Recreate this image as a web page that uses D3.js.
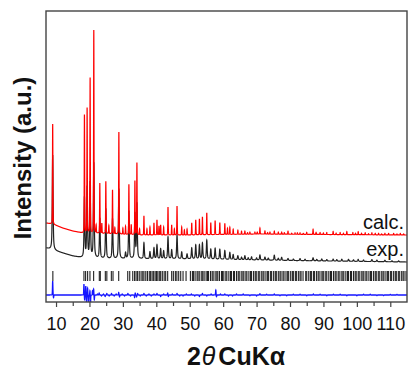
<!DOCTYPE html>
<html>
<head>
<meta charset="utf-8">
<script src="https://cdn.jsdelivr.net/npm/d3@7"></script>
<style>
  body { margin: 0; background: #fff; }
  text { font-family: "Liberation Sans", Arial, sans-serif; }
</style>
</head>
<body>
<svg width="410" height="370"></svg>
<script>
// 2theta window and ticks
var xDomain = [7, 115];
var majorTicks = [10, 20, 30, 40, 50, 60, 70, 80, 90, 100, 110];
var minorTicks = [15, 25, 35, 45, 55, 65, 75, 85, 95, 105];

// background of each pattern: [2theta, intensity]
var calcBase = [[7, 79], [9, 78], [12, 74], [15, 71], [18, 69], [25, 68.5], [35, 67], [50, 67], [70, 68], [90, 67.5], [115, 67]];
var expBase = [[7, 54], [9, 52], [10, 51], [12, 49], [15, 46], [18, 44], [25, 43], [35, 43], [50, 43], [70, 42], [90, 41], [115, 40]];
var diffBase = [[7, 7], [115, 7]];

// peaks: [2theta, height]
var calcPeaks = [[9.0,100],[18.5,118],[19.3,125],[20.2,155],[21.3,203],[22.0,8],[23.1,50],[23.7,10],[24.9,52],[25.8,8],
  [26.9,44],[27.6,6],[28.8,102],[30.0,6],[30.8,8],[31.8,50],[32.5,10],[33.6,54],[34.2,72],[35.0,6],[36.3,19],[37.2,6],
  [38.1,8],[39.3,12],[40.2,15],[40.8,9],[41.3,10],[42.2,8],[43.5,28],[44.6,10],[45.4,6],[46.2,29],[47.6,8],[48.4,5],
  [49.2,6],[50.6,12],[51.8,15],[52.9,16],[53.8,18],[55.1,22],[56.3,12],[57.6,14],[59.0,12],[60.5,11],[61.3,6],[62.0,7],
  [63.0,5],[64.4,4],[65.5,3],[66.5,3],[67.3,1.5],[68.0,2],[69.5,2],[70.2,2],[71.0,6],[72.5,3],[73.3,1.5],[74.0,2],
  [75.3,3],[76.5,2],[77.5,2],[78.3,1.5],[79.4,3],[80.5,1],[81.5,1.5],[82.2,1.5],[83.0,1.5],[84.0,1],[85.0,2],[86.9,5],
  [87.8,2],[89.0,2],[90.0,1.5],[91.0,2],[92.9,3],[93.8,1.5],[95.0,2],[96.0,1.5],[97.0,3],[98.8,2],[99.6,1.5],
  [100.4,3],[101.4,1.5],[102.5,2],[103.5,1],[104.5,2],[105.5,1.5],[106.5,1.5],[107.4,1],[108.4,1.5],[109.5,1.5],
  [111.0,1.5],[112.0,1],[113.0,1.5],[114.0,1]];
var expPeaks = [[9.0,95],[18.5,60],[19.3,70],[20.2,75],[21.3,95],[23.1,40],[24.9,50],[26.9,40],[28.8,70],[30.8,6],
  [31.8,48],[33.6,45],[34.2,55],[36.3,16],[38.1,7],[39.3,11],[40.2,14],[41.3,10],[42.2,8],[43.5,22],[44.6,9],[46.2,24],
  [47.6,7],[49.2,5],[50.6,11],[51.8,14],[52.9,14],[53.8,16],[55.1,19],[56.3,10],[57.6,11],[59.0,10],[60.5,9],[62.0,7],
  [63.0,5],[64.4,4],[65.5,2.5],[66.5,4],[67.5,2],[68.5,3],[70.0,2],[71.0,5],[72.5,3],[73.5,2],[75.3,5],[76.5,2],
  [77.5,3],[79.4,2],[81.0,1.5],[83.0,2],[84.5,1.5],[86.9,3],[88.0,1.5],[89.5,2],[91.0,1.5],[92.9,2],[94.0,1.5],
  [95.5,2],[97.5,2],[99.0,1.5],[100.4,2],[102.0,1.5],[104.5,2],[106.0,1.5],[108.4,1.5],[110.5,1],[112.5,1]];
// difference curve features: [2theta, deviation]
var diffPeaks = [[9.0,14],[9.25,-3],[18.35,11],[18.55,-5],[18.9,9],[19.1,-7],[19.45,7],[19.7,-9],[20.15,5],[20.3,-10],
  [20.9,4],[21.25,6],[21.45,-5],[22.4,1],[22.9,2],[23.6,-1],[24.2,1],[24.7,-1.5],[25.2,1.5],[25.9,-1],[26.6,1.5],
  [27.4,-1],[28.0,1],[28.75,2.5],[29.0,-2],[29.8,1],[30.5,-1],[31.5,1.5],[32.3,-1],[33.5,-2.5],[33.7,2],[34.1,-2],
  [34.4,1.5],[35.2,-1],[36.3,1.5],[37.0,-1],[37.8,1],[38.5,-1],[39.3,1],[40.2,1.5],[41.3,-1.5],[42.2,1],[43.4,2],
  [43.6,-1.5],[44.8,1],[46.2,1.5],[47.0,-1],[48.0,-1],[49.0,1],[50.5,1],[51.5,-1],[52.9,-1.5],[53.8,1.5],[55.1,-1],
  [56.4,1],[57.8,5],[58.0,-2],[59.2,1],[60.5,1],[61.6,-1],[62.8,-1],[64.0,1],[66.0,1],[68.0,-0.8],[70.0,-1],[71.0,1.2],
  [73.0,0.8],[75.3,1],[77.0,-0.8],[79.0,-0.8],[81.0,0.8],[83.0,0.8],[85.0,-0.8],[87.0,1],[89.0,0.8],[91.0,-0.8],
  [93.0,0.8],[95.0,0.8],[97.0,-0.8],[100.0,-0.8],[102.0,0.8],[104.0,0.8],[106.0,-0.6],[108.0,-0.6],[110.0,0.6],[112.0,0.6]];

// Bragg reflection markers
var reflections = [9.05,
  18.35,18.85,19.45,20.15,21.25,22.95,23.25,24.75,25.2,26.55,27.05,28.75,
  31.45,32.05,32.95,33.5,33.95,34.4,34.9,35.45,35.95,36.3,36.85,37.35,37.9,38.3,38.75,39.2,39.65,40.05,40.45,40.9,
  41.3,41.8,42.35,42.8,43.4,44.6,45.1,45.7,46.15,46.7,47.3,48.0,48.9,
  50.2,50.8,51.1,51.6,52.2,52.5,53.0,53.6,53.9,54.3,54.9,55.3,55.6,56.2,56.7,57.0,57.6,58.1,58.4,58.9,59.5,59.8,
  60.2,60.8,61.1,61.7,62.2,62.5,63.1,63.4,64.0,64.5,64.8,65.4,65.9,66.2,66.8,67.1,67.7,68.2,68.5,69.1,69.6,69.9,
  70.5,70.8,71.4,71.9,72.2,72.8,73.3,73.6,74.2,74.5,75.1,75.6,75.9,76.5,77.0,77.3,77.9,78.2,78.8,79.3,79.6,80.2,
  80.7,81.0,81.6,81.9,82.5,83.0,83.3,83.9,84.7,85.0,85.6,86.1,86.4,87.0,87.3,87.9,88.4,88.7,89.3,89.8,90.1,90.7,
  91.0,91.6,92.1,92.4,93.0,93.5,93.8,94.4,94.7,95.3,95.8,96.1,96.7,97.2,97.5,98.1,98.4,99.0,99.5,99.8,100.4,100.7,
  101.3,101.8,102.1,102.7,103.0,103.6,104.1,104.4,105.0,105.5,105.8,106.4,106.7,107.3,107.8,108.1,108.7,109.2,
  109.5,110.1,110.4,111.0,111.5,111.8,112.4,112.7,113.3,113.8,114.1,114.7];
var reflRange = [21, 31];

var svg = d3.select("svg"),
    margin = {left: 46, top: 11, right: 3, bottom: 68},
    width = +svg.attr("width"),
    height = +svg.attr("height");

var x = d3.scaleLinear().domain(xDomain).range([margin.left, width - margin.right]);
var y = d3.scaleLinear().domain([0, height - margin.bottom - margin.top]).range([height - margin.bottom, margin.top]);

// build a pattern from background + peaks
function profile(base, peaks, w, eta) {
  var bg = d3.scaleLinear().domain(base.map(d => d[0])).range(base.map(d => d[1]));
  var pts = [];
  var step = 0.01, n = Math.round((xDomain[1] - xDomain[0]) / step);
  for (var i = 0; i <= n; i++) {
    var t = xDomain[0] + i * step;
    var v = bg(t);
    peaks.forEach(function(p) {
      var u = (t - p[0]) / w;
      v += p[1] * (eta / (1 + u * u) + (1 - eta) * Math.exp(-0.693 * u * u));
    });
    pts.push([t, v]);
  }
  return pts;
}

var line = d3.line().x(d => x(d[0])).y(d => y(d[1]));

svg.append("defs").append("clipPath").attr("id", "clip")
  .append("rect")
    .attr("x", margin.left).attr("y", margin.top)
    .attr("width", width - margin.left - margin.right)
    .attr("height", height - margin.top - margin.bottom);

var plot = svg.append("g").attr("clip-path", "url(#clip)");

// reflection markers
plot.append("g").selectAll("line")
  .data(reflections)
  .enter()
  .append("line")
    .attr("x1", d => x(d)).attr("x2", d => x(d))
    .attr("y1", y(reflRange[0])).attr("y2", y(reflRange[1]))
    .style("stroke", "#222")
    .style("stroke-width", 1.1);

plot.append("path")
  .attr("d", line(profile(diffBase, diffPeaks, 0.07, 0.3)))
  .style("fill", "none").style("stroke", "#1414ff").style("stroke-width", 1.3);

plot.append("path")
  .attr("d", line(profile(expBase, expPeaks, 0.14, 0.6)))
  .style("fill", "none").style("stroke", "#222").style("stroke-width", 1.2);

plot.append("path")
  .attr("d", line(profile(calcBase, calcPeaks, 0.07, 0.3)))
  .style("fill", "none").style("stroke", "#ff0000").style("stroke-width", 1.2);

// axes
var xAxis = svg.append("g")
  .attr("transform", "translate(0," + (height - margin.bottom) + ")")
  .call(d3.axisBottom(x).tickValues(majorTicks).tickSize(5).tickPadding(10).tickFormat(d3.format("d")));
xAxis.select(".domain").remove();
xAxis.selectAll("text").style("font-size", "18px").style("fill", "#111");
xAxis.selectAll("line").style("stroke", "#444").style("stroke-width", 1.2);

var xMinor = svg.append("g")
  .attr("transform", "translate(0," + (height - margin.bottom) + ")")
  .call(d3.axisBottom(x).tickValues(minorTicks).tickSize(4).tickFormat(""));
xMinor.select(".domain").remove();
xMinor.selectAll("line").style("stroke", "#444").style("stroke-width", 1.2);

// frame
svg.append("rect")
  .attr("x", margin.left).attr("y", margin.top)
  .attr("width", width - margin.left - margin.right)
  .attr("height", height - margin.top - margin.bottom)
  .style("fill", "none").style("stroke", "#444").style("stroke-width", 1.4);

// labels
svg.append("text")
  .attr("x", 404).attr("y", 229)
  .attr("text-anchor", "end")
  .style("font-size", "20px").style("fill", "#111")
  .text("calc.");
svg.append("text")
  .attr("x", 404).attr("y", 256)
  .attr("text-anchor", "end")
  .style("font-size", "20px").style("fill", "#111")
  .text("exp.");

svg.append("text")
  .attr("transform", "translate(31,158) rotate(-90)")
  .attr("text-anchor", "middle")
  .style("font-size", "24px").style("font-weight", "bold").style("fill", "#111")
  .text("Intensity (a.u.)");

var xt = svg.append("text")
  .attr("x", 236).attr("y", 365)
  .attr("text-anchor", "middle")
  .style("font-size", "25px").style("fill", "#111");
xt.append("tspan").style("font-weight", "bold").text("2");
xt.append("tspan").style("font-style", "italic").attr("dx", 1).text("θ");
xt.append("tspan").style("font-weight", "bold").attr("dx", 3).text("CuKα");
</script>
</body>
</html>
